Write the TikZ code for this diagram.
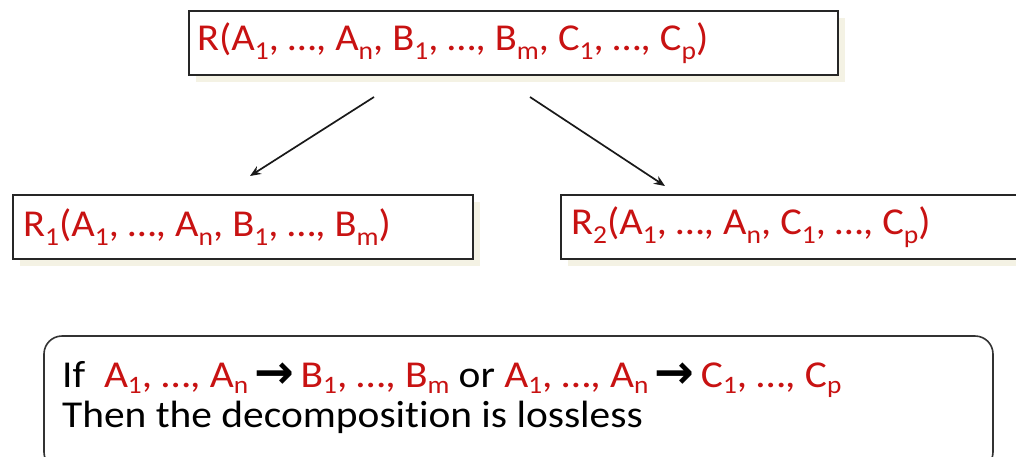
\documentclass[tikz,border=0pt]{standalone}
\usepackage{fontspec}
\setmainfont{Carlito}[Ligatures={NoCommon}]
\newfontfamily\topfont{Carlito}[Ligatures={NoCommon},FakeStretch=1.065]
\newfontfamily\botfont{Carlito}[Ligatures={NoCommon},FakeStretch=1.09]
\newfontfamily\arrowfont{DejaVu Sans}
\usetikzlibrary{arrows.meta,calc}
\definecolor{txtred}{RGB}{200,18,18}
\definecolor{shadowc}{RGB}{244,242,228}
\newcommand{\sbs}[1]{\raisebox{-0.25em}{\scalebox{0.68}{#1}}}
\newcommand{\sbb}[1]{\raisebox{-0.18em}{\scalebox{0.66}{#1}}}
\newcommand{\rarr}{\,{\arrowfont\bfseries\raisebox{-0.04em}{\scalebox{1.25}{→}}}\,}
\tikzset{
  relbox/.style={draw=black!85, line width=2pt, fill=white, minimum height=64pt,
    anchor=north west, inner sep=0pt},
  reltext/.style={anchor=west, text=txtred, inner sep=0pt, font=\topfont\fontsize{38}{44}\selectfont},
  conn/.style={line width=1.7pt, draw=black!90, -{Stealth[length=11pt,width=9pt]}},
  lossbox/.style={draw=black!80, line width=1.6pt, rounded corners=18pt, fill=white},
  losstext/.style={anchor=base west, inner sep=0pt, text height=25pt, text depth=8pt,
    font=\botfont\fontsize{38}{37}\selectfont}
}
\begin{document}
\begin{tikzpicture}[x=1pt,y=-1pt]
\useasboundingbox (0,0) rectangle (1016,456);
% shadows
\fill[shadowc] (196,18) rectangle (845,82);
\fill[shadowc] (20,202) rectangle (480,266);
\fill[shadowc] (568,202) rectangle (1024,266);
% boxes
\node[relbox, minimum width=649pt] (R) at (188,10) {};
\node[reltext] (Rt) at (197,43)
  {R(A\sbs{1}, \dots, A\sbs{n}, B\sbs{1}, \dots, B\sbs{m}, C\sbs{1}, \dots, C\sbs{p})};
\node[relbox, minimum width=460pt] (R1) at (12,194) {};
\node[reltext] (R1t) at (23,227)
  {R\sbs{1}(A\sbs{1}, \dots, A\sbs{n}, B\sbs{1}, \dots, B\sbs{m})};
\node[relbox, minimum width=462pt] (R2) at (560,194) {};
\node[reltext] (R2t) at (571,227)
  {R\sbs{2}(A\sbs{1}, \dots, A\sbs{n}, C\sbs{1}, \dots, C\sbs{p})};
% connectors
\coordinate (s1) at ($(R.south west)+(186,21)$);
\coordinate (e1) at ($(R1.north west)+(238,-18)$);
\coordinate (s2) at ($(R.south west)+(342,21)$);
\coordinate (e2) at ($(R2.north west)+(105,-8)$);
\draw[conn] (s1) -- (e1);
\draw[conn] (s2) -- (e2);
% bottom box
\draw[lossbox] (44,336) rectangle (993,470);
\node[losstext] (L1) at (62,387)
  {If\ \ \textcolor{txtred}{A\sbb{1}, \dots, A\sbb{n}}\rarr\textcolor{txtred}{B\sbb{1}, \dots, B\sbb{m}} or \textcolor{txtred}{A\sbb{1}, \dots, A\sbb{n}}\rarr\textcolor{txtred}{C\sbb{1}, \dots, C\sbb{p}}};
\node[losstext] (L2) at (62,427)
  {Then the decomposition is lossless};
\end{tikzpicture}
\end{document}
